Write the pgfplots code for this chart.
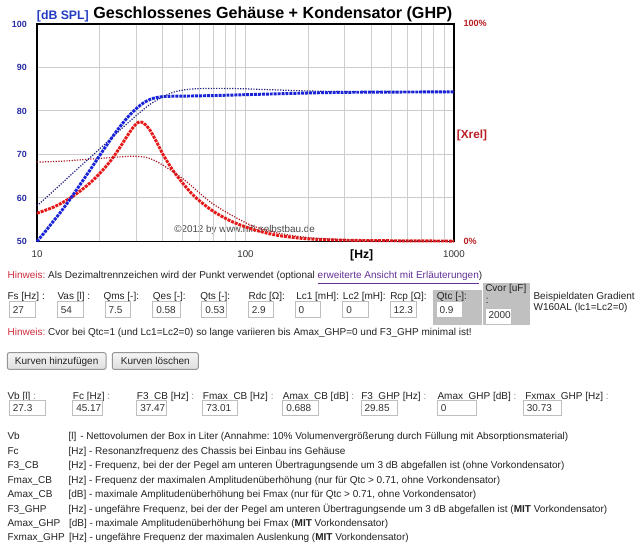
\documentclass[border=0pt]{standalone}
\usepackage{fontspec}
\setmainfont{Liberation Sans}
\usepackage{pgfplots}
\pgfplotsset{compat=1.18}
\frenchspacing
\definecolor{hinw}{RGB}{205,45,60}
\definecolor{linkc}{RGB}{100,50,150}
\definecolor{txt}{RGB}{35,35,35}
\definecolor{valtxt}{RGB}{50,50,50}
\definecolor{boxb}{RGB}{190,190,190}
\definecolor{cellg}{RGB}{192,192,192}
\definecolor{gridg}{RGB}{205,205,205}
\definecolor{dbblue}{RGB}{35,60,195}
\definecolor{tickblue}{RGB}{40,45,165}
\definecolor{xrel}{RGB}{185,30,35}
\definecolor{bsol}{RGB}{25,35,215}
\definecolor{bdot}{RGB}{30,30,130}
\definecolor{rsol}{RGB}{230,25,25}
\definecolor{rdot}{RGB}{170,25,35}
\definecolor{xtc}{RGB}{50,50,50}
\definecolor{btnb}{RGB}{150,150,150}
\tikzset{
 t/.style={anchor=base west, inner sep=0pt, font=\fontsize{7.5}{9}\selectfont\frenchspacing, text=txt},
 v/.style={anchor=base west, inner sep=0pt, font=\fontsize{7.5}{9}\selectfont, text=valtxt},
 ibox/.style={draw=boxb, line width=0.75pt, fill=white},
}
\begin{document}
\begin{tikzpicture}
\useasboundingbox (0,0) rectangle (480pt,-416.25pt);
\fill[white] (0,0) rectangle (480pt,-416.25pt);
\begin{scope}[x=0.75pt,y=-0.75pt]
\node[anchor=west, inner sep=0pt, font=\fontsize{7.4}{8}\selectfont, text=black!72] at (174,230) {©2012 by www.hifi-selbstbau.de};
\end{scope}

% frame, grid, ticks
\begin{axis}[at={(27.75pt,-181.125pt)}, anchor=south west, scale only axis,
  width=312.75pt, height=163.125pt, xmode=log, xmin=10, xmax=1000,
  ymin=50, ymax=100,
  ytick={50,60,...,100}, xtick={10,100,1000}, xticklabels={10,100,1000},
  minor xtick={20,30,40,50,60,70,80,90,200,300,400,500,600,700,800,900},
  xmajorgrids, xminorgrids, ymajorgrids,
  grid style={color=gridg, line width=0.75pt},
  minor grid style={color=gridg, line width=0.75pt},
  major tick length=0pt, minor tick length=0pt,
  axis line style={line width=1.1pt, black},
  /pgf/number format/assume math mode=true,
  yticklabel style={font=\bfseries\fontsize{6.7}{8}\selectfont, text=tickblue, anchor=east, inner sep=0pt, xshift=-7.5pt},
  xticklabel style={font=\fontsize{7.3}{8}\selectfont, text=xtc, anchor=center, inner sep=0pt, yshift=-9.4pt},
]
\addplot[draw=none] coordinates {(10,50)};
\end{axis}

% Xrel curves
\begin{axis}[at={(27.75pt,-181.125pt)}, anchor=south west, scale only axis,
  width=312.75pt, height=163.125pt, xmode=log, xmin=10, xmax=1000,
  ymin=0, ymax=100, hide axis, clip=false]
\addplot[rsol, line width=2.2pt, dash pattern=on 2.2pt off 0.75pt, smooth] table[row sep=\\] {
x y\\ 10 13.0\\ 12 15.8\\ 14 19.2\\ 16 23.0\\ 18 27.0\\ 20 31.3\\ 22.5 37.0\\ 25 43.3\\ 27.5 49.5\\ 29.5 53.5\\ 31 55.0\\ 32.5 54.4\\ 34.5 51.8\\ 36.5 47.8\\ 38.5 43.6\\ 40 40.4\\ 42.5 36.2\\ 45 32.5\\ 50 26.8\\ 55 22.2\\ 60 18.8\\ 70 13.9\\ 85 9.4\\ 105 6.0\\ 126 3.9\\ 150 2.5\\ 200 1.2\\ 300 0.6\\ 500 0.35\\ 1000 0.2\\
};
\addplot[rdot, line width=0.9pt, dash pattern=on 0.9pt off 1.1pt, smooth] table[row sep=\\] {
x y\\ 10 36.5\\ 13 36.9\\ 16 37.5\\ 20 38.2\\ 25 38.9\\ 29 39.2\\ 33 38.8\\ 36 37.6\\ 40 35.2\\ 45 32.0\\ 50 28.9\\ 55 25.6\\ 60 22.4\\ 70 17.2\\ 85 12.3\\ 105 7.7\\ 126 5.2\\ 150 3.5\\ 200 1.8\\ 300 0.8\\ 500 0.4\\ 1000 0.2\\
};
\end{axis}

% SPL curves
\begin{axis}[at={(27.75pt,-181.125pt)}, anchor=south west, scale only axis,
  width=312.75pt, height=163.125pt, xmode=log, xmin=10, xmax=1000,
  ymin=50, ymax=100, hide axis, clip=false]
\addplot[bdot, line width=0.9pt, dash pattern=on 0.9pt off 1.1pt, smooth] table[row sep=\\] {
x y\\ 10 58.2\\ 12.5 62.4\\ 15 65.9\\ 17.5 68.8\\ 20 71.3\\ 25 75.6\\ 30 79.0\\ 35 81.6\\ 40 83.2\\ 45 84.3\\ 50 84.8\\ 55 85.05\\ 62 85.15\\ 75 85.2\\ 100 85.1\\ 120 84.95\\ 150 84.8\\ 200 84.6\\ 300 84.45\\ 500 84.4\\ 1000 84.4\\
};
\addplot[bsol, line width=2.2pt, dash pattern=on 2.2pt off 0.75pt, smooth] table[row sep=\\] {
x y\\ 10 50.0\\ 11 52.4\\ 12 54.7\\ 13 56.8\\ 14.4 59.7\\ 16 62.9\\ 18 66.5\\ 20 69.8\\ 22.5 73.4\\ 25 76.4\\ 27.5 78.8\\ 30 80.6\\ 32.5 81.9\\ 35 82.7\\ 37.5 83.1\\ 40 83.3\\ 45 83.4\\ 55 83.45\\ 70 83.55\\ 85 83.65\\ 100 83.75\\ 130 83.9\\ 170 84.05\\ 230 84.2\\ 320 84.3\\ 500 84.35\\ 1000 84.4\\
};
\end{axis}

\begin{scope}[x=0.75pt,y=-0.75pt]
% chart texts
\node[anchor=base west, inner sep=0pt, font=\bfseries\fontsize{12.1}{14}\selectfont] at (93,18.5) {Geschlossenes Gehäuse + Kondensator (GHP)};
\node[anchor=base west, inner sep=0pt, font=\bfseries\fontsize{9.2}{11}\selectfont, text=dbblue] at (36.7,19.3) {[dB SPL]};
\node[anchor=center, inner sep=0pt, font=\bfseries\fontsize{9.1}{11}\selectfont] at (361.7,255) {[Hz]};
\node[anchor=west, inner sep=0pt, font=\bfseries\fontsize{6.8}{8}\selectfont, text=xrel] at (463.3,23.3) {100\%};
\node[anchor=west, inner sep=0pt, font=\bfseries\fontsize{8.8}{10}\selectfont, text=xrel] at (456.7,135) {[Xrel]};
\node[anchor=west, inner sep=0pt, font=\bfseries\fontsize{6.8}{8}\selectfont, text=xrel] at (463.3,241) {0\%};

% form
\node[t] at (7.3,278.9) {\textcolor{hinw}{Hinweis:} Als Dezimaltrennzeichen wird der Punkt verwendet (optional \textcolor{linkc}{\underline{erweiterte Ansicht mit Erläuterungen}})};

\fill[cellg] (433.3,290.3) rectangle (482.3,325.3);
\fill[cellg] (483.3,282.7) rectangle (530,325.3);

\node[t] at (7.3,299.9) {Fs [Hz] :};
\node[t] at (57.3,299.9) {Vas [l] :};
\node[t] at (103.3,299.9) {Qms [-]:};
\node[t] at (152.7,299.9) {Qes [-]:};
\node[t] at (200,299.9) {Qts [-]:};
\node[t] at (248.3,299.9) {Rdc [Ω]:};
\node[t] at (296,299.9) {Lc1 [mH]:};
\node[t] at (342.7,299.9) {Lc2 [mH]:};
\node[t] at (390,299.9) {Rcp [Ω]:};
\node[t] at (436.7,299.9) {Qtc [-]:};
\node[t] at (485,291.3) {Cvor [uF]};
\node[t] at (485.7,304) {:};
\node[t] at (533.3,299.9) {Beispieldaten Gradient};
\node[t] at (533.3,310.6) {W160AL (lc1=Lc2=0)};

\draw[ibox] (9.3,302) rectangle (35.7,318);   \node[v] at (12.6,313.9) {27};
\draw[ibox] (57.3,302) rectangle (83.3,318);  \node[v] at (60.6,313.9) {54};
\draw[ibox] (105,302) rectangle (130.7,318);  \node[v] at (108.3,313.9) {7.5};
\draw[ibox] (152.7,302) rectangle (180,318);  \node[v] at (156,313.9) {0.58};
\draw[ibox] (201.7,302) rectangle (226.7,318);
\begin{scope}\clip (201.7,302) rectangle (224.2,318); \node[v] at (205,313.9) {0.538}; \end{scope}
\draw[ibox] (248.3,302) rectangle (273.3,318); \node[v] at (251.6,313.9) {2.9};
\draw[ibox] (295,302) rectangle (320.7,318);   \node[v] at (298.3,313.9) {0};
\draw[ibox] (342.7,302) rectangle (368.3,318); \node[v] at (346,313.9) {0};
\draw[ibox] (390,302) rectangle (416.7,318);   \node[v] at (393.3,313.9) {12.3};
\draw[ibox] (436,302) rectangle (462.7,317.5); \node[v] at (439.3,313.6) {0.9};
\draw[ibox] (485,308.7) rectangle (511,324.7); \node[v] at (488.3,318.9) {2000};

\node[t] at (7.3,335.6) {\textcolor{hinw}{Hinweis:} Cvor bei Qtc=1 (und Lc1=Lc2=0) so lange variieren bis Amax\_GHP=0 und F3\_GHP minimal ist!};

\draw[rounded corners=1.5pt, draw=btnb, line width=0.75pt, top color=white!96!black, bottom color=black!13] (7.3,352.7) rectangle (106,369.3);
\draw[rounded corners=1.5pt, draw=btnb, line width=0.75pt, top color=white!96!black, bottom color=black!13] (112.3,352.7) rectangle (198.3,369.3);
\node[t, anchor=base] at (56.65,364.6) {Kurven hinzufügen};
\node[t, anchor=base] at (155.3,364.6) {Kurven löschen};

\node[t] at (7.3,399.6) {Vb [l] \textcolor{black!45}{:}};
\node[t] at (72.7,399.6) {Fc [Hz] \textcolor{black!45}{:}};
\node[t] at (136.7,399.6) {F3\_CB [Hz] \textcolor{black!45}{:}};
\node[t] at (202.7,399.6) {Fmax\_CB [Hz] \textcolor{black!45}{:}};
\node[t] at (282.7,399.6) {Amax\_CB [dB] \textcolor{black!45}{:}};
\node[t] at (361,399.6) {F3\_GHP [Hz] \textcolor{black!45}{:}};
\node[t] at (437.3,399.6) {Amax\_GHP [dB] \textcolor{black!45}{:}};
\node[t] at (525,399.6) {Fxmax\_GHP [Hz] \textcolor{black!45}{:}};

\draw[ibox] (9.3,400.5) rectangle (45,416);     \node[v] at (12.6,411.3) {27.3};
\draw[ibox] (72.7,400.5) rectangle (102.7,416);  \node[v] at (76,411.3) {45.17};
\draw[ibox] (136.7,400.5) rectangle (166.7,416); \node[v] at (140,411.3) {37.47};
\draw[ibox] (202.7,400.5) rectangle (237.3,416); \node[v] at (206,411.3) {73.01};
\draw[ibox] (282.7,400.5) rectangle (318,416);   \node[v] at (286,411.3) {0.688};
\draw[ibox] (361,400.5) rectangle (397.7,416);   \node[v] at (364.3,411.3) {29.85};
\draw[ibox] (437.3,400.5) rectangle (476.7,416); \node[v] at (440.6,411.3) {0};
\draw[ibox] (523.3,400.5) rectangle (561,416);   \node[v] at (526.6,411.3) {30.73};

\node[t] at (7.3,439.9) {Vb};
\node[t] at (68.3,439.9) {[l]};
\node[t] at (80,439.9) {- Nettovolumen der Box in Liter (Annahme: 10\% Volumenvergrößerung durch Füllung mit Absorptionsmaterial)};
\node[t] at (7.3,454.6) {Fc};
\node[t] at (68.3,454.6) {[Hz] - Resonanzfrequenz des Chassis bei Einbau ins Gehäuse};
\node[t] at (7.3,468.9) {F3\_CB};
\node[t] at (68.3,468.9) {[Hz] - Frequenz, bei der der Pegel am unteren Übertragungsende um 3 dB abgefallen ist (ohne Vorkondensator)};
\node[t] at (7.3,483.9) {Fmax\_CB};
\node[t] at (68.3,483.9) {[Hz] - Frequenz der maximalen Amplitudenüberhöhung (nur für Qtc > 0.71, ohne Vorkondensator)};
\node[t] at (7.3,497.9) {Amax\_CB};
\node[t] at (68.3,497.9) {[dB] - maximale Amplitudenüberhöhung bei Fmax (nur für Qtc > 0.71, ohne Vorkondensator)};
\node[t] at (7.3,512.3) {F3\_GHP};
\node[t] at (68.3,512.3) {[Hz] - ungefähre Frequenz, bei der der Pegel am unteren Übertragungsende um 3 dB abgefallen ist (\textbf{MIT} Vorkondensator)};
\node[t] at (7.3,526.6) {Amax\_GHP};
\node[t] at (68.8,526.6) {[dB] - maximale Amplitudenüberhöhung bei Fmax (\textbf{MIT} Vorkondensator)};
\node[t] at (7.3,540.6) {Fxmax\_GHP};
\node[t] at (68.8,540.6) {[Hz] - ungefähre Frequenz der maximalen Auslenkung (\textbf{MIT} Vorkondensator)};
\end{scope}
\end{tikzpicture}
\end{document}
